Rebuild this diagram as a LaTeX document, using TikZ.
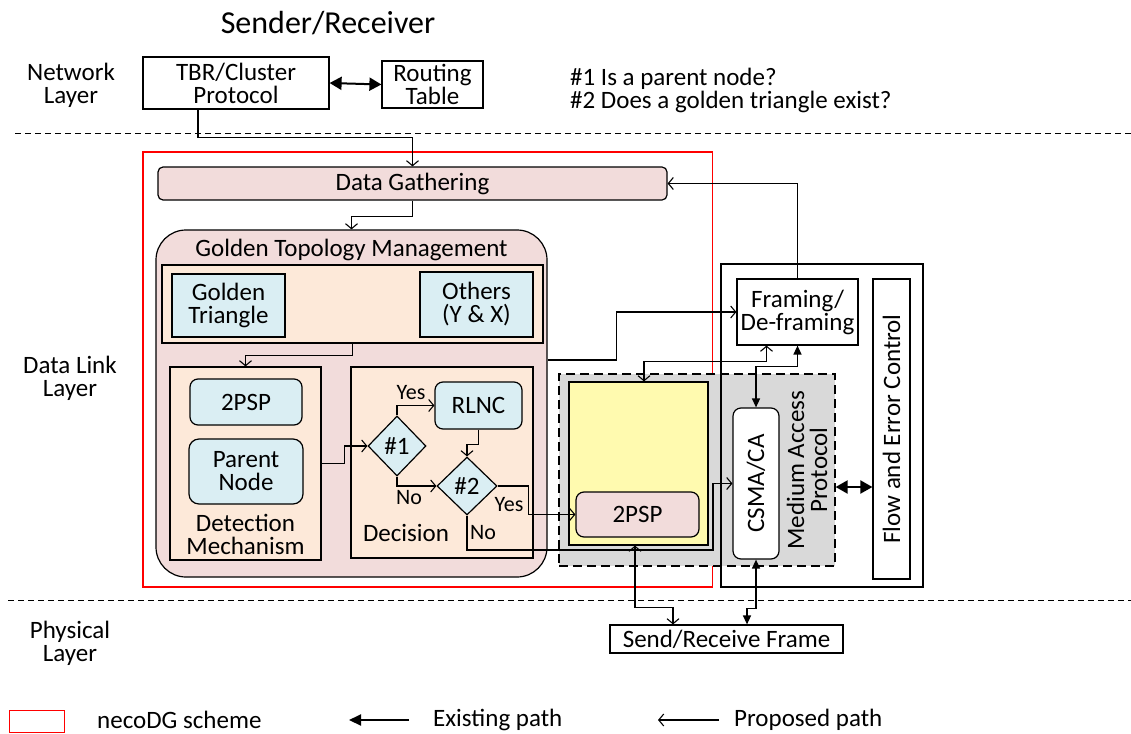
\documentclass[tikz,border=0pt]{standalone}
\usepackage{fontspec}
\setmainfont{Carlito}
\usetikzlibrary{arrows.meta,shapes.geometric}
\definecolor{pinkf}{HTML}{F2DCDB}
\definecolor{peach}{HTML}{FDE9D9}
\definecolor{lblue}{HTML}{DAEEF3}
\definecolor{yelf}{HTML}{FFFAAF}
\definecolor{grayf}{HTML}{D9D9D9}
\newcommand\fsm{\fontsize{25}{23}\selectfont}
\newcommand\fss{\fontsize{22}{24}\selectfont}
\begin{document}
\begin{tikzpicture}[x=1pt,y=-1pt,font=\fsm,
  box/.style={draw,line width=1.2pt,inner sep=0pt,align=center},
  txt/.style={inner sep=0pt,align=center},
  sepline/.style={line width=1pt,dash pattern=on 6pt off 4pt},
  prop/.style={line width=1.1pt,-{Straight Barb[length=5pt,width=12pt,line width=1.1pt]}},
  prop2/.style={line width=1.1pt,{Straight Barb[length=5pt,width=12pt,line width=1.1pt]}-{Straight Barb[length=5pt,width=12pt,line width=1.1pt]}},
  exist2/.style={line width=1.4pt,{Triangle[length=9pt,width=8pt]}-{Triangle[length=9pt,width=8pt]}},
  big/.style={line width=2pt,{Triangle[length=12pt,width=13pt]}-{Triangle[length=12pt,width=13pt]}}]
\useasboundingbox[fill=white] (0,0) rectangle (1131,733);

% titles and layer labels
\node[txt] (title) at (328,23) {\fontsize{32}{36}\selectfont Sender/Receiver};
\node[txt] (nl) at (71,85) {Network\\Layer};
\node[txt] (dll) at (70,378) {Data Link\\Layer};
\node[txt] (pl) at (70,643.5) {Physical\\Layer};
\node[txt,anchor=west,align=left] (q) at (570,90) {\#1 Is a parent node?\\\#2 Does a golden triangle exist?};

% layer separators
\draw[sepline] (15,133) -- (1131,133);
\draw[sepline] (8,600) -- (1131,600);

% network layer
\node[box,minimum width=186,minimum height=52] (tbr) at (236,83) {TBR/Cluster\\Protocol};
\node[box,minimum width=101,minimum height=47] (rt) at (432.5,84.5) {Routing\\Table};

% necoDG scheme frame
\draw[red,line width=1.1pt] (143,152) rectangle (712.5,587);

% data gathering and golden topology management
\node[box,fill=pinkf,rounded corners=5pt,minimum width=509,minimum height=33] (dg) at (412.5,183.5) {Data Gathering};
\node[box,fill=pinkf,rounded corners=30pt,minimum width=391,minimum height=347] (gtm) at (351.5,403.5) {};
\node[txt] (gtmt) at (351.5,250) {Golden Topology Management};
\node[box,fill=peach,minimum width=381,minimum height=78] (inner) at (352.5,304) {};
\node[box,fill=lblue,minimum width=113,minimum height=63] (gt) at (228.5,305.5) {Golden\\Triangle};
\node[box,fill=lblue,minimum width=113,minimum height=65] (oth) at (476.5,304.5) {Others\\(Y \& X)};
\node[box,fill=peach,minimum width=151,minimum height=193] (det) at (245.5,463.5) {};
\node[box,fill=lblue,rounded corners=8pt,minimum width=112,minimum height=46] (psp1) at (246,402) {2PSP};
\node[box,fill=lblue,rounded corners=10pt,minimum width=114,minimum height=65] (pn) at (246,471.5) {Parent\\Node};
\node[txt] (dett) at (245.5,534) {Detection\\Mechanism};
\node[box,fill=peach,minimum width=182,minimum height=191] (dec) at (442,462.5) {};
\node[box,diamond,fill=lblue,minimum width=58,minimum height=60] (d1) at (397,446) {\#1};
\node[box,fill=lblue,rounded corners=8pt,minimum width=87,minimum height=47] (rlnc) at (478.5,405.5) {RLNC};
\node[box,diamond,fill=lblue,minimum width=60,minimum height=58] (d2) at (467,486) {\#2};
\node[txt] (dect) at (406,533) {Decision};

% medium access protocol area
\node[draw,line width=1.2pt,dash pattern=on 9pt off 5pt,fill=grayf,inner sep=0pt,minimum width=276,minimum height=192] (map) at (697,470) {};
\node[box,minimum width=202,minimum height=323] (dl) at (822,425.5) {};
\node[box,fill=yelf,minimum width=139,minimum height=163] (yel) at (638.5,463.5) {};
\node[box,fill=pinkf,rounded corners=8pt,minimum width=123,minimum height=45] (psp2) at (637.5,514.5) {2PSP};
\node[box,fill=white,rounded corners=8pt,minimum width=46,minimum height=151] (csma) at (756,483.5) {};
\node[txt,rotate=90] (csmat) at (756,483.5) {CSMA/CA};
\node[txt,rotate=90] (mapt) at (807,470) {Medium Access\\Protocol};
\node[box,minimum width=121,minimum height=66] (fr) at (797.5,312) {Framing/\\De-framing};
\node[box,minimum width=37,minimum height=300] (fec) at (891.5,429) {};
\node[txt,rotate=90] (fect) at (891.5,429) {Flow and Error Control};
\node[box,minimum width=233,minimum height=28] (srf) at (726.5,639) {Send/Receive Frame};

% decision labels
\node[txt,font=\fss] (y1) at (411,393) {Yes};
\node[txt,font=\fss] (n1) at (409,498) {No};
\node[txt,font=\fss] (y2) at (509,505) {Yes};
\node[txt,font=\fss] (n2) at (483,533) {No};

% connectors
\draw[big] (tbr.east) -- (rt.west);
\draw[prop] ([xshift=-38pt]tbr.south) -- ++(0,28) -| (dg.north);
\draw[prop] (dg.south) -- ++(0,16) -| (gtm.north);
\draw[prop] (inner.south) -- ++(0,12) -| (det.north);
\draw[prop] (det.east) -- ++(23,0) |- (d1.west);
\draw[prop] (d1.north) |- (rlnc.west);
\draw[prop] (d1.south) |- (d2.west);
\draw[prop] (rlnc.south) -- ++(0,15) -| (d2.north);
\draw[prop] (d2.east) -- ++(31,0) |- (psp2.west);
\coordinate (nob) at (713,550);
\draw[prop] (d2.south) |- (nob) |- (csma.west);
\draw[prop] ([yshift=43.5pt]gtm.east) -- ++(69,0) |- (fr.west);
\draw[prop] (fr.north) |- (dg.east);
\draw[prop2] ([xshift=5.5pt]yel.north) -- ++(0,-20) -| ([xshift=-31pt]fr.south);
\draw[exist2] (csma.north) -- ++(0,-41) -| (fr.south);
\draw[prop2] ([xshift=-3.5pt]yel.south) -- ++(0,62) -| ([xshift=-53.5pt]srf.north);
\draw[exist2] (csma.south) -- ++(0,49) -| ([xshift=20.5pt]srf.north);
\coordinate (mapA) at ([yshift=-17pt]map.east);
\draw[big] (mapA) -- (mapA -| fec.west);

% legend
\draw[red,line width=1pt] (9,710) rectangle (64,732);
\node[txt,anchor=west] (lg1) at (97,719.5) {necoDG scheme};
\coordinate (le1) at (409,720);
\coordinate (le2) at (349,720);
\draw[line width=2pt,-{Triangle[length=12pt,width=11pt]}] (le1) -- (le2);
\node[txt,anchor=west] (lg2) at (433,719.5) {Existing path};
\coordinate (lp1) at (719,720);
\coordinate (lp2) at (658,720);
\draw[prop] (lp1) -- (lp2);
\node[txt,anchor=west] (lg3) at (734,719.5) {Proposed path};
\end{tikzpicture}
\end{document}
